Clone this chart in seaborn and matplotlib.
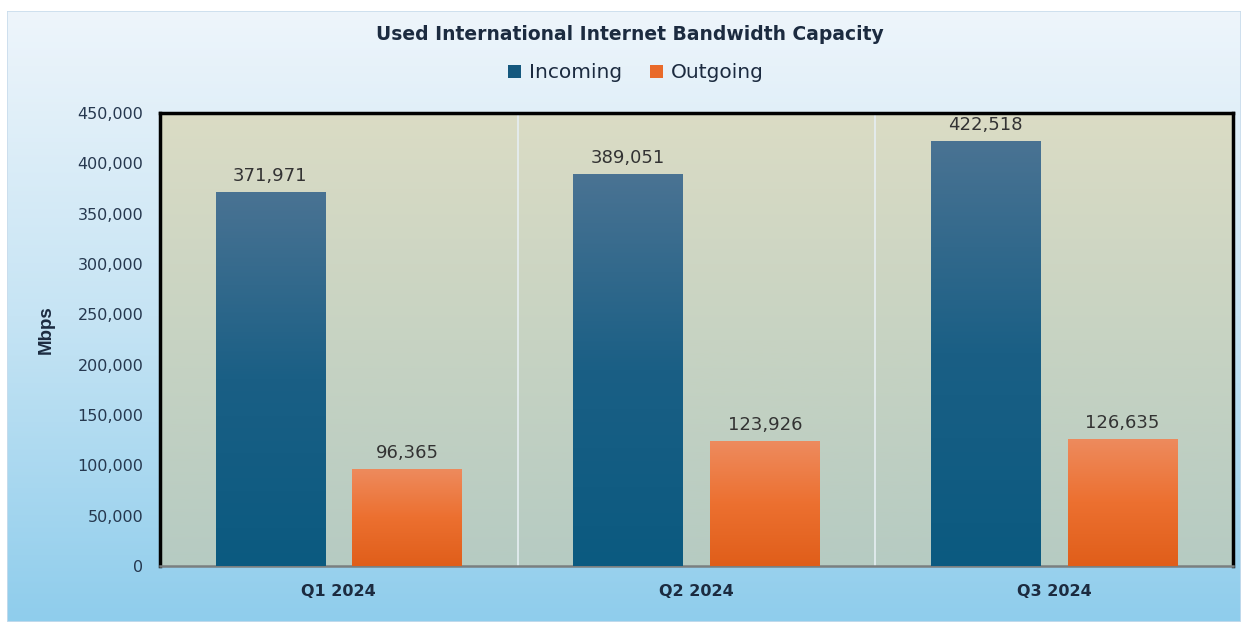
import numpy as np
import pandas as pd
import matplotlib
matplotlib.use("Agg")
import matplotlib.pyplot as plt
from matplotlib.colors import LinearSegmentedColormap
from matplotlib.patches import Patch
import seaborn as sns

# data
quarters = ["Q1 2024", "Q2 2024", "Q3 2024"]
incoming = [371971, 389051, 422518]
outgoing = [96365, 123926, 126635]
series = ["Incoming", "Outgoing"]

df = pd.DataFrame({
    "quarter": quarters * 2,
    "Mbps": incoming + outgoing,
    "direction": [series[0]] * 3 + [series[1]] * 3,
})

sns.set_theme(style="white")
plt.rcParams["font.family"] = ["DejaVu Sans"]

fig = plt.figure(figsize=(12.41, 6.22), dpi=100)
fig.patch.set_facecolor("white")

# chart area background: pale top to light blue bottom
bg = fig.add_axes([7 / 1241, 0, 1 - 7 / 1241, 1 - 11 / 622], zorder=-5)
bg_cmap = LinearSegmentedColormap.from_list("bg", ["#8fcdec", "#c6e4f4", "#eef5fb"])
bg.imshow(np.linspace(0, 1, 256).reshape(-1, 1), cmap=bg_cmap, aspect="auto",
          extent=[0, 1, 0, 1], origin="lower")
bg.set_axis_off()
bg.add_patch(plt.Rectangle((0, 0), 1, 1, fill=False, ec="#c9dcec", lw=1.2,
                           transform=bg.transAxes))

ax = fig.add_axes([160 / 1241, 1 - 566 / 622, (1233 - 160) / 1241, (566 - 113) / 622])
ax.set_facecolor("none")

# plot area gradient
pa_cmap = LinearSegmentedColormap.from_list("pa", ["#b6cbc2", "#c7d3c2", "#dbdcc5"])
ax.imshow(np.linspace(0, 1, 256).reshape(-1, 1), cmap=pa_cmap, aspect="auto",
          extent=[0, 1, 0, 1], origin="lower", transform=ax.transAxes, zorder=0)

palette = {"Incoming": "#15587e", "Outgoing": "#e96a2a"}
sns.barplot(data=df, x="quarter", y="Mbps", hue="direction", palette=palette,
            width=0.765, gap=0.197, saturation=1, linewidth=0, edgecolor="none",
            ax=ax, zorder=2)

grads = {
    "Incoming": LinearSegmentedColormap.from_list("inc", ["#0b5a80", "#1a5f85", "#4a7393"]),
    "Outgoing": LinearSegmentedColormap.from_list("out", ["#e05e1a", "#ec7030", "#ee8b5e"]),
}
for cont, name in zip(ax.containers, series):
    for bar in cont:
        x0, y0 = bar.get_x(), bar.get_y()
        w, h = bar.get_width(), bar.get_height()
        im = ax.imshow(np.linspace(0, 1, 256).reshape(-1, 1), cmap=grads[name],
                       aspect="auto", extent=[x0, x0 + w, y0, y0 + h],
                       origin="lower", zorder=3)
        im.set_clip_path(bar)
    ax.bar_label(cont, labels=[f"{v:,.0f}" for v in cont.datavalues],
                 padding=5, fontsize=13, color="#333333", zorder=4)

ax.set_xlim(-0.5, 2.5)
ax.set_ylim(0, 450000)
ax.set_yticks(np.arange(0, 450001, 50000))
ax.yaxis.set_major_formatter(matplotlib.ticker.FuncFormatter(lambda v, p: f"{v:,.0f}"))
ax.tick_params(axis="y", labelsize=11.5, labelcolor="#26384f", pad=12, length=0)
ax.tick_params(axis="x", labelsize=11.5, labelcolor="#1c2b40", pad=13, length=0)
for lbl in ax.get_xticklabels():
    lbl.set_fontweight("bold")

for xv in [0.5, 1.5]:
    ax.axvline(xv, color="#e6eef3", lw=1.2, zorder=1)

for s in ["top", "left", "right"]:
    ax.spines[s].set_color("black")
    ax.spines[s].set_linewidth(2.5)
ax.spines["bottom"].set_color("#7a7f80")
ax.spines["bottom"].set_linewidth(1.8)

ax.set_xlabel("")
ax.set_ylabel("")
fig.text(46 / 1241, 1 - 330 / 622, "Mbps", rotation=90, ha="center", va="center",
         fontsize=13.5, fontweight="bold", color="#1c2b40",
         family=["Liberation Sans Narrow", "Liberation Sans"])

fig.text(630 / 1241, 1 - 35 / 622, "Used International Internet Bandwidth Capacity",
         ha="center", va="center", fontsize=13.5, fontweight="bold", color="#1c2b40")

ax.get_legend().remove()
handles = [Patch(facecolor=palette[n], edgecolor="none") for n in series]
fig.legend(handles, series, loc="center", bbox_to_anchor=(636 / 1241, 1 - 73 / 622),
           ncol=2, frameon=False, fontsize=14.5, handlelength=0.65, handleheight=0.65,
           handletextpad=0.4, columnspacing=1.4, labelcolor="#1c2b40")

fig.savefig("out.png", dpi=100)
